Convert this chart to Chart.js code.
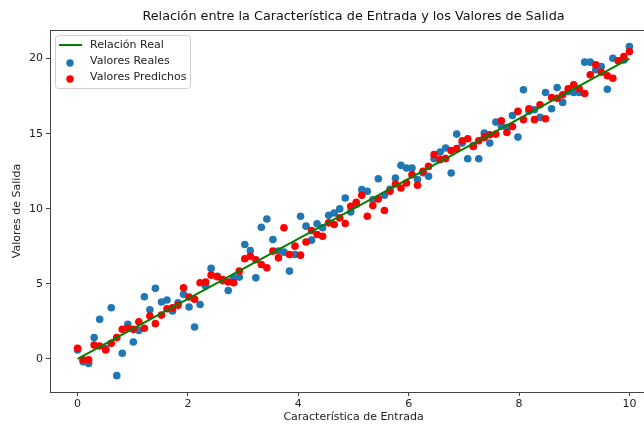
<!DOCTYPE html>
<html>
<head>
<meta charset="utf-8">
<script src="https://cdn.jsdelivr.net/npm/chart.js@4"></script>
<style>
  body { margin: 0; background: #fff; overflow: hidden; }
  #wrap { width: 670px; height: 425px; }
</style>
</head>
<body>
<div id="wrap"><canvas id="chart" width="670" height="425"></canvas></div>
<script>
// x positions shared by both scatter series
const X_VALUES = [
  0.00, 0.10, 0.20, 0.30, 0.40, 0.51, 0.61, 0.71, 0.81, 0.91,
  1.01, 1.11, 1.21, 1.31, 1.41, 1.52, 1.62, 1.72, 1.82, 1.92,
  2.02, 2.12, 2.22, 2.32, 2.42, 2.53, 2.63, 2.73, 2.83, 2.93,
  3.03, 3.13, 3.23, 3.33, 3.43, 3.54, 3.64, 3.74, 3.84, 3.94,
  4.04, 4.14, 4.24, 4.34, 4.44, 4.55, 4.65, 4.75, 4.85, 4.95,
  5.05, 5.15, 5.25, 5.35, 5.45, 5.56, 5.66, 5.76, 5.86, 5.96,
  6.06, 6.16, 6.26, 6.36, 6.46, 6.57, 6.67, 6.77, 6.87, 6.97,
  7.07, 7.17, 7.27, 7.37, 7.47, 7.58, 7.68, 7.78, 7.88, 7.98,
  8.08, 8.18, 8.28, 8.38, 8.48, 8.59, 8.69, 8.79, 8.89, 8.99,
  9.09, 9.19, 9.29, 9.39, 9.49, 9.60, 9.70, 9.80, 9.90, 10.00
];
const REAL_VALUES = [
  0.60, -0.18, -0.30, 1.42, 2.64, 0.70, 3.41, -1.11, 0.38, 2.30,
  1.13, 1.90, 4.14, 3.28, 4.70, 3.79, 3.92, 3.19, 3.74, 4.30,
  3.46, 2.13, 3.63, 4.85, 6.03, 5.50, 5.20, 4.56, 5.40, 5.45,
  7.62, 7.22, 5.40, 8.77, 9.32, 7.95, 7.18, 7.11, 5.85, 6.95,
  9.50, 8.84, 7.91, 9.00, 8.73, 9.57, 9.72, 9.99, 10.72, 9.79,
  10.30, 11.27, 11.16, 10.60, 12.00, 10.90, 11.30, 12.05, 12.89, 12.71,
  12.71, 11.94, 12.40, 12.16, 13.33, 13.77, 14.04, 12.38, 14.97, 14.37,
  13.33, 14.20, 13.33, 15.04, 14.37, 15.77, 15.50, 15.40, 16.21, 14.77,
  17.92, 16.50, 16.59, 16.08, 17.74, 16.66, 18.07, 17.08, 17.80, 17.74,
  17.74, 19.76, 19.76, 19.25, 19.47, 17.96, 20.02, 19.85, 19.90, 20.80
];
const PRED_VALUES = [
  0.71, -0.05, -0.05, 0.93, 0.86, 0.60, 1.04, 1.42, 1.97, 2.04,
  1.97, 2.48, 2.04, 2.86, 2.35, 2.92, 3.34, 3.41, 3.57, 4.74,
  4.12, 3.97, 5.07, 5.12, 5.58, 5.47, 5.29, 5.12, 5.07, 5.85,
  6.67, 6.84, 6.60, 6.29, 6.07, 7.18, 6.73, 8.73, 6.95, 7.51,
  6.91, 7.79, 8.55, 8.29, 8.17, 9.06, 8.95, 9.39, 9.02, 10.17,
  10.43, 10.90, 9.50, 10.21, 10.65, 9.88, 11.16, 11.65, 11.38, 11.71,
  12.27, 11.56, 12.49, 12.82, 13.60, 13.27, 13.34, 13.87, 14.00, 14.53,
  14.66, 14.15, 14.53, 14.75, 14.93, 14.97, 15.86, 15.08, 15.48, 16.48,
  15.93, 16.66, 15.93, 16.92, 15.99, 17.41, 17.36, 17.59, 17.99, 18.25,
  17.99, 17.67, 18.92, 19.58, 19.09, 18.85, 18.69, 19.85, 20.13, 20.47
];
// the true relation y = 2x, drawn between its two end points
const LINE_X = [0, 10];
const LINE_Y = [0, 20];
const X_TICKS = [0, 2, 4, 6, 8, 10];
const Y_TICKS = [0, 5, 10, 15, 20];

const TITLE = 'Relación entre la Característica de Entrada y los Valores de Salida';

const toPoints = (xs, ys) => xs.map((x, i) => ({ x: x, y: ys[i] }));

const FONT = 'DejaVu Sans, sans-serif';
const AXIS_COLOR = '#444';

// box round the plot, like matplotlib spines
const framePlugin = {
  id: 'frame',
  afterDatasetsDraw(chart) {
    const { ctx, chartArea: a } = chart;
    ctx.save();
    ctx.strokeStyle = AXIS_COLOR;
    ctx.lineWidth = 1;
    ctx.strokeRect(Math.round(a.left) + 0.5, Math.round(a.top) + 0.5,
      Math.round(a.right - a.left), Math.round(a.bottom - a.top));
    ctx.restore();
  }
};

// title centred over the plot area rather than the canvas
const titlePlugin = {
  id: 'axesTitle',
  afterDraw(chart) {
    const { ctx, chartArea: a } = chart;
    ctx.save();
    ctx.font = '12.8px ' + FONT;
    ctx.fillStyle = '#111';
    ctx.textAlign = 'center';
    ctx.textBaseline = 'middle';
    ctx.fillText(TITLE, (a.left + a.right) / 2, 17);
    ctx.restore();
  }
};

// legend drawn inside the plot, upper left
const legendPlugin = {
  id: 'innerLegend',
  afterDraw(chart) {
    const { ctx, chartArea: a } = chart;
    const items = [chart.data.datasets[0], chart.data.datasets[2], chart.data.datasets[1]];
    const x0 = a.left + 5, y0 = a.top + 5, w = 135, rowH = 16, h = rowH * items.length + 5;
    ctx.save();
    ctx.fillStyle = 'rgba(255,255,255,0.85)';
    ctx.strokeStyle = '#d0d0d0';
    ctx.lineWidth = 1;
    ctx.beginPath();
    ctx.roundRect(x0 + 0.5, y0 + 0.5, w, h, 3);
    ctx.fill();
    ctx.stroke();
    ctx.font = '11px ' + FONT;
    ctx.textBaseline = 'middle';
    items.forEach((ds, i) => {
      const cy = y0 + 10 + i * rowH;
      if (ds.type === 'line') {
        ctx.strokeStyle = ds.borderColor;
        ctx.lineWidth = 2;
        ctx.beginPath();
        ctx.moveTo(x0 + 4, cy);
        ctx.lineTo(x0 + 27, cy);
        ctx.stroke();
      } else {
        ctx.fillStyle = ds.backgroundColor;
        ctx.beginPath();
        ctx.arc(x0 + 15, cy + 2, 3.7, 0, Math.PI * 2);
        ctx.fill();
      }
      ctx.fillStyle = '#222';
      ctx.fillText(ds.label, x0 + 35, cy);
    });
    ctx.restore();
  }
};

new Chart(document.getElementById('chart'), {
  data: {
    datasets: [
      {
        type: 'line',
        label: 'Relación Real',
        data: toPoints(LINE_X, LINE_Y),
        borderColor: '#008000',
        borderWidth: 2,
        pointRadius: 0,
        order: 0
      },
      {
        type: 'scatter',
        label: 'Valores Predichos',
        data: toPoints(X_VALUES, PRED_VALUES),
        backgroundColor: '#ff0000',
        borderWidth: 0,
        pointRadius: 3.8,
        order: 1
      },
      {
        type: 'scatter',
        label: 'Valores Reales',
        data: toPoints(X_VALUES, REAL_VALUES),
        backgroundColor: '#1f77b4',
        borderWidth: 0,
        pointRadius: 3.8,
        order: 2
      }
    ]
  },
  options: {
    responsive: false,
    animation: false,
    layout: { padding: { left: 0, right: 13, top: 30, bottom: 0 } },
    plugins: {
      legend: { display: false },
      tooltip: { enabled: false },
      title: { display: false }
    },
    scales: {
      x: {
        type: 'linear',
        min: -0.5,
        max: 10.5,
        afterBuildTicks: (s) => { s.ticks = X_TICKS.map(v => ({ value: v })); },
        afterFit: (s) => { s.height = 33; },
        border: { display: false },
        grid: { drawOnChartArea: false, drawTicks: true, tickLength: 4, color: AXIS_COLOR },
        ticks: { color: '#222', font: { family: FONT, size: 11 }, padding: 2, maxRotation: 0 },
        title: {
          display: true,
          text: 'Característica de Entrada',
          color: '#222',
          font: { family: FONT, size: 11 },
          padding: { top: 0, bottom: 1 }
        }
      },
      y: {
        type: 'linear',
        min: -2.2,
        max: 21.9,
        afterBuildTicks: (s) => { s.ticks = Y_TICKS.map(v => ({ value: v })); },
        afterFit: (s) => { s.width = 50; },
        border: { display: false },
        grid: { drawOnChartArea: false, drawTicks: true, tickLength: 4, color: AXIS_COLOR },
        ticks: { color: '#222', font: { family: FONT, size: 11 }, padding: 3 },
        title: {
          display: true,
          text: 'Valores de Salida',
          color: '#222',
          font: { family: FONT, size: 11 },
          padding: { top: 11, bottom: 0 }
        }
      }
    }
  },
  plugins: [framePlugin, titlePlugin, legendPlugin]
});
</script>
</body>
</html>
